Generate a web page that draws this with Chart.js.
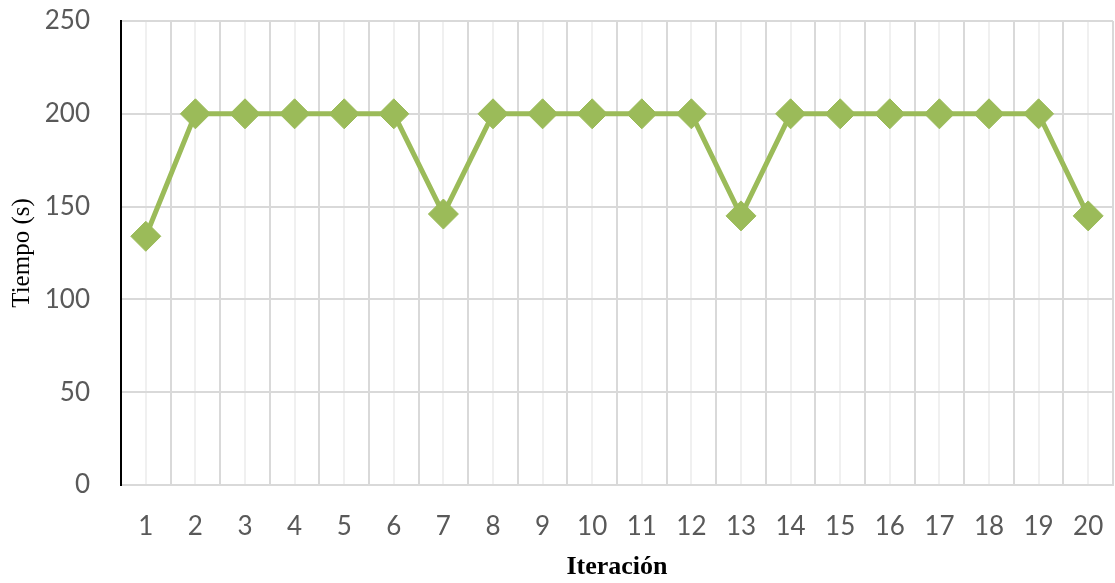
<!DOCTYPE html>
<html>
<head>
<meta charset="utf-8">
<script src="https://cdn.jsdelivr.net/npm/chart.js@4"></script>
<style>
  body { margin: 0; background: #ffffff; }
  #wrap { width: 1115px; height: 583px; position: relative; }
</style>
</head>
<body>
<div id="wrap"><canvas id="chart"></canvas></div>
<script>
// Data
const iterations = ['1','2','3','4','5','6','7','8','9','10','11','12','13','14','15','16','17','18','19','20'];
const tiempos = [134, 200, 200, 200, 200, 200, 146, 200, 200, 200, 200, 200, 145, 200, 200, 200, 200, 200, 200, 145];
const yTicks = [0, 50, 100, 150, 200, 250];

const green = '#9bbb59';
const tickFont = { family: 'Lato', size: 26 };
const tickColor = '#595959';

// light minor lines through every category centre (Excel minor gridlines)
const centreLines = {
  id: 'centreLines',
  beforeDraw(chart) {
    const { ctx, chartArea, scales } = chart;
    ctx.save();
    ctx.strokeStyle = '#f0f0f0';
    ctx.lineWidth = 2;
    iterations.forEach((lbl, i) => {
      const x = Math.round(scales.x.getPixelForValue(i));
      ctx.beginPath();
      ctx.moveTo(x, chartArea.top);
      ctx.lineTo(x, chartArea.bottom);
      ctx.stroke();
    });
    ctx.restore();
  }
};

const ctx = document.getElementById('chart').getContext('2d');

new Chart(ctx, {
  type: 'line',
  data: {
    labels: iterations,
    datasets: [{
      label: 'Tiempo',
      data: tiempos,
      borderColor: green,
      backgroundColor: green,
      borderWidth: 5,
      pointStyle: 'rectRot',
      pointRadius: 15,
      pointBorderWidth: 1,
      pointBorderColor: green,
      pointBackgroundColor: green,
      tension: 0
    }]
  },
  options: {
    responsive: true,
    maintainAspectRatio: false,
    animation: false,
    layout: { autoPadding: false, padding: { top: 21, right: 2, left: 0, bottom: 0 } },
    plugins: {
      legend: { display: false },
      tooltip: { enabled: false }
    },
    scales: {
      x: {
        type: 'category',
        offset: true,
        grid: { offset: true, color: '#d9d9d9', lineWidth: 2, drawTicks: false },
        border: { display: true, color: '#d9d9d9', width: 2 },
        ticks: { color: tickColor, font: tickFont, padding: 26, maxRotation: 0, autoSkip: false },
        title: {
          display: true,
          text: 'Iteración',
          color: '#000000',
          font: { family: 'Liberation Serif', size: 26, weight: 'bold' },
          padding: { top: 0, bottom: 0 }
        },
        afterFit: axis => {
          axis.height = 98;
          axis.paddingLeft = 0;
          axis.paddingRight = 0;
        }
      },
      y: {
        min: 0,
        max: 250,
        afterBuildTicks: axis => { axis.ticks = yTicks.map(v => ({ value: v })); },
        grid: { color: '#d9d9d9', lineWidth: 2, drawTicks: false },
        border: { display: true, color: '#000000', width: 2 },
        ticks: { color: tickColor, font: tickFont, padding: 31 },
        title: {
          display: true,
          text: 'Tiempo (s)',
          color: '#000000',
          font: { family: 'Liberation Serif', size: 25 },
          padding: { top: 7, bottom: 0 }
        },
        afterFit: axis => {
          axis.width = 121;
          axis.paddingTop = 0;
          axis.paddingBottom = 0;
        }
      }
    }
  },
  plugins: [centreLines]
});
</script>
</body>
</html>
